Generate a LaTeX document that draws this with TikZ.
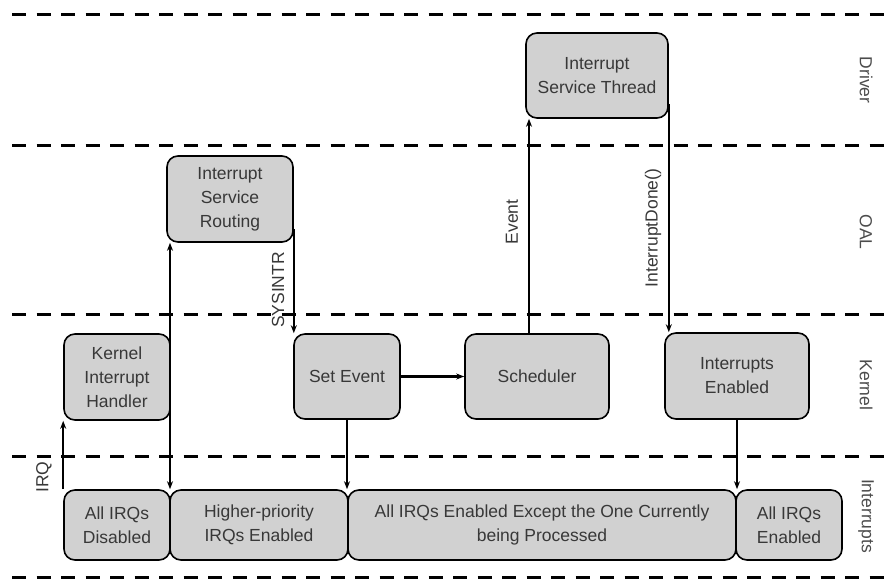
\documentclass[tikz,border=0pt]{standalone}
\usepackage{fontspec}
\setmainfont{Liberation Sans}
\usetikzlibrary{arrows.meta}
\begin{document}
\begin{tikzpicture}[x=1pt,y=-1pt,
  font=\fontsize{17.5}{24}\selectfont,
  box/.style={draw=black, line width=1.6pt, fill=black!18, rounded corners=11pt,
    text=black!78, align=center, inner sep=0pt},
  sep/.style={dashed, dash pattern=on 14pt off 10.5pt, line width=3pt},
  conn/.style={line width=2.2pt, -{Stealth[length=8pt,width=6pt]}},
  lbl/.style={text=black!78, inner sep=0pt},
  layer/.style={text=black!70, rotate=-90, inner sep=0pt}]
\useasboundingbox (0,0) rectangle (885,581);
% separators
\foreach \yy in {14,145,314,456,577} \draw[sep] (12,\yy) -- (885,\yy);
% layer labels
\node[layer] (ldrv) at (866,80) {Driver};
\node[layer] (loal) at (866,232) {OAL};
\node[layer] (lker) at (866,385) {Kernel};
\node[layer] (lint) at (866,516) {Interrupts};
% boxes
\node[box, minimum width=142pt, minimum height=85pt] (ist) at (597,75.5) {Interrupt\\Service Thread};
\node[box, minimum width=126pt, minimum height=86pt] (isr) at (230,199) {Interrupt\\Service\\Routing};
\node[box, minimum width=106pt, minimum height=86pt] (kih) at (117,377) {Kernel\\Interrupt\\Handler};
\node[box, minimum width=106pt, minimum height=85pt] (se) at (347,376.5) {Set Event};
\node[box, minimum width=144pt, minimum height=85pt] (sch) at (537,376.5) {Scheduler};
\node[box, minimum width=144pt, minimum height=86pt] (ie) at (737,376) {Interrupts\\Enabled};
\node[box, minimum width=106pt, minimum height=70pt] (dis) at (117,525) {All IRQs\\Disabled};
\node[box, minimum width=178pt, minimum height=70pt] (hp) at (259,525) {Higher-priority\\IRQs Enabled};
\node[box, minimum width=388pt, minimum height=70pt] (exc) at (542,525) {All IRQs Enabled Except the One Currently\\being Processed};
\node[box, minimum width=106pt, minimum height=70pt] (en) at (789,525) {All IRQs\\Enabled};
% connectors
\draw[conn] (dis.north west) -- (kih.south west);
\node[lbl, rotate=90] (lirq) at (44,477) {IRQ};
\coordinate (kx) at (170,0);
\draw[line width=2.2pt, {Stealth[length=8pt,width=6pt]}-{Stealth[length=8pt,width=6pt]}]
  (kx |- isr.south) -- (kx |- hp.north);
\draw[conn] (isr.south east) ++(0,-14) coordinate (sys0) -- (sys0 |- se.north);
\node[lbl, rotate=90] (lsys) at (278,290) {SYSINTR};
\draw[conn] (se.east) -- (sch.west);
\draw[conn] (se.south) -- (se.south |- exc.north);
\coordinate (evx) at (529,0);
\draw[conn] (evx |- sch.north) -- (evx |- ist.south);
\node[lbl, rotate=90] (lev) at (512,222) {Event};
\draw[conn] (ist.south east) ++(0,-15) coordinate (idn0) -- (idn0 |- ie.north);
\node[lbl, rotate=90] (lidn) at (653,228) {InterruptDone()};
\draw[conn] (ie.south) -- (ie.south |- en.north);
\end{tikzpicture}
\end{document}
